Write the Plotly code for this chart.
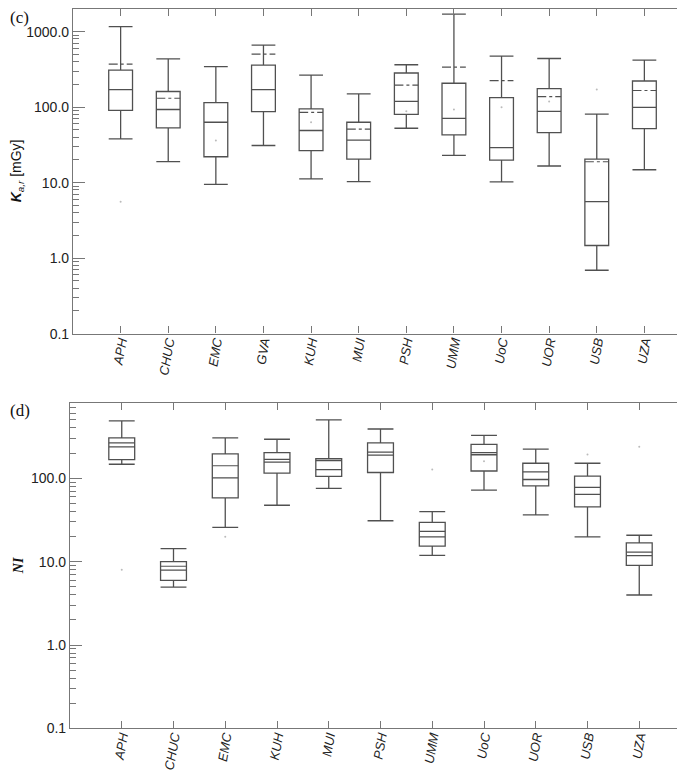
import plotly.graph_objects as go

# %% data
sites_c = ["APH", "CHUC", "EMC", "GVA", "KUH", "MUI", "PSH", "UMM", "UoC", "UOR", "USB", "UZA"]
kar_low = [38, 19, 9.5, 31, 11.2, 10.3, 52.5, 22.9, 10.2, 16.6, 0.69, 14.8]
kar_q1 = [90.6, 53, 22, 87, 26.6, 20.5, 80, 43, 19.9, 46, 1.47, 52]
kar_median = [171, 93, 63, 171, 49, 36.5, 119, 71, 29, 88, 5.6, 99]
kar_q3 = [310, 161, 115, 360, 95, 63, 283, 207, 134, 176, 20.5, 222]
kar_high = [1165, 437, 343, 661, 266, 150, 364, 1710, 473, 441, 81, 419]
kar_mean = [372, 131, None, 503, 85, 51, 196, 339, 224, 138, 18.9, 166]
kar_dot = [5.6, None, 36, None, 63, None, 88, 93, 100, 119, 171, None]

sites_d = ["APH", "CHUC", "EMC", "KUH", "MUI", "PSH", "UMM", "UoC", "UOR", "USB", "UZA"]
ni_low = [147, 4.95, 25.7, 47.4, 75.5, 30.9, 11.9, 72, 36.4, 19.8, 3.98]
ni_q1 = [167, 5.96, 58, 115, 105, 117, 15.3, 122, 81, 45.3, 9.0]
ni_median = [238, 7.9, 100.8, 156, 127, 189, 19.8, 191, 96.5, 64, 11.8]
ni_mean = [265, 8.8, 141, 168, 162, 205, 23.1, 203, 119, 77.6, 13.0]
ni_q3 = [304, 10.0, 196, 203, 171, 265, 29.5, 255, 151, 106, 16.8]
ni_high = [487, 14.3, 304, 293, 501, 389, 39.8, 327, 223, 151, 20.7]
ni_dot = [8.0, None, 19.8, None, None, None, 127, 160, None, 192, 238]

W, H = 685, 773
LINE = "#505050"
AXIS = "#777777"
HALF = 0.25
SANS = "Liberation Sans"
SERIF = "Liberation Serif"


def seg_lines(pos, vals):
    xs, ys = [], []
    for p, v in zip(pos, vals):
        if v is None:
            continue
        xs += [p - HALF, p + HALF, None]
        ys += [v, v, None]
    return xs, ys


def add_panel(fig, sites, low, q1, med, q3, high, extra, extra_dash, dots, xa, ya):
    pos = list(range(1, len(sites) + 1))
    fig.add_trace(go.Box(
        x=pos, q1=q1, median=med, q3=q3, lowerfence=low, upperfence=high,
        width=2 * HALF, whiskerwidth=1, boxpoints=False,
        line=dict(color=LINE, width=1.3), fillcolor="rgba(0,0,0,0)",
        xaxis=xa, yaxis=ya, showlegend=False, hoverinfo="skip",
    ))
    xs, ys = seg_lines(pos, extra)
    fig.add_trace(go.Scatter(
        x=xs, y=ys, mode="lines", line=dict(color=LINE, width=1.2, dash=extra_dash),
        xaxis=xa, yaxis=ya, showlegend=False, hoverinfo="skip",
    ))
    dx = [p for p, d in zip(pos, dots) if d is not None]
    dy = [d for d in dots if d is not None]
    fig.add_trace(go.Scatter(
        x=dx, y=dy, mode="markers", marker=dict(color="#bbbbbb", size=2),
        xaxis=xa, yaxis=ya, showlegend=False, hoverinfo="skip",
    ))


fig = go.Figure()
add_panel(fig, sites_c, kar_low, kar_q1, kar_median, kar_q3, kar_high,
          kar_mean, "dashdot", kar_dot, "x", "y")
add_panel(fig, sites_d, ni_low, ni_q1, ni_median, ni_q3, ni_high,
          ni_mean, "solid", ni_dot, "x2", "y2")

common_x = dict(
    showline=True, linecolor=AXIS, linewidth=1.2, mirror="ticks",
    ticks="inside", ticklen=7, tickcolor=AXIS, tickangle=-80,
    showgrid=False, zeroline=False, ticklabelstandoff=-6,
    tickfont=dict(family=SANS, size=13, color="#222"),
)
common_y = dict(
    type="log", showline=True, linecolor=AXIS, linewidth=1.2, mirror="ticks",
    ticks="inside", ticklen=12, tickcolor=AXIS, showgrid=False, zeroline=False,
    tickfont=dict(family=SANS, size=14, color="#222"),
    tickvals=[0.1, 1, 10, 100, 1000], ticktext=["0.1", "1.0", "10.0", "100.0", "1000.0"],
    minor=dict(ticks="inside", ticklen=6, tickcolor=AXIS, dtick="D1", showgrid=False),
)

fig.update_layout(
    width=W, height=H, margin=dict(l=0, r=0, t=0, b=0),
    paper_bgcolor="white", plot_bgcolor="white",
    xaxis=dict(common_x, domain=[65 / W, 684 / W], range=[0, len(sites_c) + 1],
               tickvals=list(range(1, len(sites_c) + 1)),
               ticktext=[f"<i>{s}</i>" for s in sites_c], anchor="y"),
    yaxis=dict(common_y, domain=[1 - 329 / H, 1 - 1 / H], range=[-1, 3.3], anchor="x"),
    xaxis2=dict(common_x, domain=[62 / W, 683 / W], range=[0, len(sites_d) + 1],
                tickvals=list(range(1, len(sites_d) + 1)),
                ticktext=[f"<i>{s}</i>" for s in sites_d], anchor="y2"),
    yaxis2=dict(common_y, domain=[1 - 728 / H, 1 - 399 / H], range=[-1, 2.903], anchor="x2"),
)

serif = dict(family=SERIF, size=17, color="#111")
fig.add_annotation(text="(c)", x=0, y=1, xref="paper", yref="paper",
                   xanchor="left", yanchor="top", showarrow=False, font=serif, yshift=2)
fig.add_annotation(text="(d)", x=0, y=1 - 395 / H, xref="paper", yref="paper",
                   xanchor="left", yanchor="top", showarrow=False, font=serif)
fig.add_annotation(
    text="<b><i>K</i></b><sub><i>a,r</i></sub> [mGy]",
    x=9 / W, y=1 - 165 / H, xref="paper", yref="paper", textangle=-90,
    xanchor="center", yanchor="middle", showarrow=False,
    font=dict(family=SANS, size=14, color="#111"),
)
fig.add_annotation(
    text="<b><i>NI</i></b>",
    x=10 / W, y=1 - 564 / H, xref="paper", yref="paper", textangle=-90,
    xanchor="center", yanchor="middle", showarrow=False,
    font=dict(family=SERIF, size=14, color="#111"),
)

fig.write_html("out.html")
